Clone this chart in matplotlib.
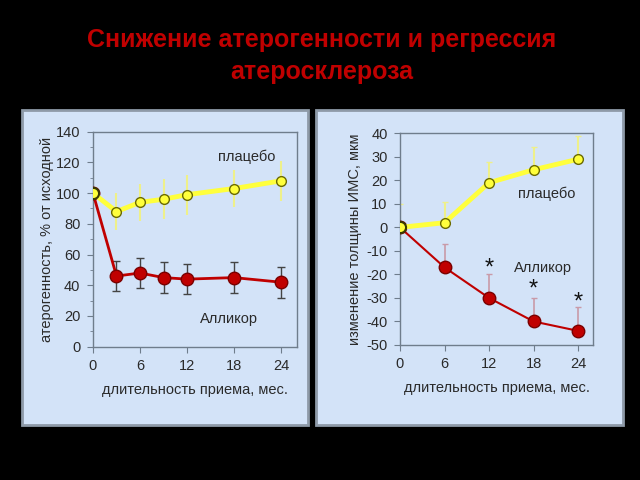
import matplotlib
matplotlib.use('Agg')
import matplotlib.pyplot as plt
from matplotlib.patches import Rectangle
from matplotlib.ticker import MultipleLocator

# данные: атерогенность (левый график)
x_l = [0, 3, 6, 9, 12, 18, 24]
plac_l = [100, 88, 94, 96, 99, 103, 108]
plac_l_err = [12, 12, 12, 13, 13, 12, 13]
alik_l = [100, 46, 48, 45, 44, 45, 42]
alik_l_err = [0, 10, 10, 10, 10, 10, 10]

# данные: толщина ИМС (правый график)
x_r = [0, 6, 12, 18, 24]
plac_r = [0, 2, 19, 24.5, 29]
plac_r_err = [10, 9, 9, 9.5, 10]
alik_r = [0, -17, -30, -40, -44]
alik_r_err = [0, 10, 10, 10, 10]
star_x = [12, 18, 24]
star_y = [-17.5, -26.5, -32]

title1 = 'Снижение атерогенности и регрессия'
title2 = 'атеросклероза'
xlab = 'длительность приема, мес.'

plt.rcParams['font.family'] = ['Liberation Sans', 'DejaVu Sans']
plt.rcParams['axes.unicode_minus'] = False
fig = plt.figure(figsize=(6.4, 4.8), dpi=100, facecolor='black')

BG = '#d3e3f8'; YEL = '#ffff3c'; RED = '#c00000'; TXT = '#2a2a2a'
for px, w in ((0.0344, 0.4469), (0.4938, 0.4797)):
    fig.patches.append(Rectangle((px, 0.1146), w, 0.656, transform=fig.transFigure,
                                 facecolor=BG, edgecolor='#8e9aa8', lw=2, zorder=-5))

for ty, t in ((1 - 40 / 480, title1), (1 - 72 / 480, title2)):
    fig.text(0.503, ty, t, ha='center', va='center', color='#c00000',
             fontsize=18, fontweight='bold')

def style(ax, ylim, ystep):
    ax.set_facecolor('none')
    ax.set_xlim(0, 26); ax.set_ylim(*ylim)
    ax.set_xticks([0, 6, 12, 18, 24])
    ax.yaxis.set_major_locator(MultipleLocator(ystep))
    for s in ax.spines.values():
        s.set_color('#6f7d8c'); s.set_linewidth(1)
    ax.tick_params(direction='out', length=4, color='#6f7d8c', labelsize=10.5,
                   labelcolor=TXT, pad=5)
    ax.set_xlabel(xlab, fontsize=10.5, color=TXT, labelpad=7)

# левый график
ax1 = fig.add_axes([0.1453, 0.2777, 0.3183, 0.4479])
style(ax1, (0, 140), 20)
ax1.yaxis.set_minor_locator(MultipleLocator(10))
ax1.tick_params(which='minor', direction='out', length=2, color='#6f7d8c')
ax1.errorbar(x_l, plac_l, yerr=plac_l_err, fmt='none', ecolor='#eef08a', elinewidth=1.5, zorder=2)
ax1.errorbar(x_l[1:], alik_l[1:], yerr=alik_l_err[1:], fmt='none', ecolor='#444444',
             elinewidth=1, capsize=3, zorder=2)
ax1.plot(x_l, alik_l, '-o', color=RED, lw=2, ms=9, mec='#7a0000', mew=1, zorder=3)
ax1.plot(x_l, plac_l, '-o', color=YEL, lw=3.5, ms=7, mfc=YEL, mec='#6a6a00', mew=1, zorder=4)
ax1.plot(x_l[:1], plac_l[:1], 'o', ms=8, mfc=YEL, mec='#3a3a00', mew=1.5, zorder=5)
ax1.text(19.6, 123.5, 'плацебо', ha='center', va='center', fontsize=10.5, color=TXT)
ax1.text(17.4, 18, 'Алликор', ha='center', va='center', fontsize=10.5, color=TXT)
ax1.set_ylabel('атерогенность, % от исходной', fontsize=10.5, color=TXT, labelpad=1)

# правый график
ax2 = fig.add_axes([0.625, 0.28125, 0.3016, 0.441])
style(ax2, (-50, 40), 10)
ax2.errorbar(x_r, plac_r, yerr=[[0] * 5, plac_r_err], fmt='none', ecolor='#eef08a',
             elinewidth=1.5, capsize=2, zorder=2)
ax2.errorbar(x_r[1:], alik_r[1:], yerr=[[0] * 4, alik_r_err[1:]], fmt='none',
             ecolor='#c99aa8', elinewidth=1.2, capsize=2, zorder=2)
ax2.plot(x_r, alik_r, '-o', color=RED, lw=1.5, ms=9, mec='#7a0000', mew=1, zorder=3)
ax2.plot(x_r, plac_r, '-o', color=YEL, lw=3.5, ms=7, mfc=YEL, mec='#6a6a00', mew=1, zorder=4)
ax2.plot(x_r[:1], plac_r[:1], 'o', ms=8, mfc=YEL, mec='#3a3a00', mew=1.5, zorder=5)
for sx, sy in zip(star_x, star_y):
    ax2.text(sx, sy, '*', ha='center', va='center', fontsize=17, color='#111111')
ax2.text(19.8, 14.5, 'плацебо', ha='center', va='center', fontsize=10.5, color=TXT)
ax2.text(19.3, -17.4, 'Алликор', ha='center', va='center', fontsize=10.5, color=TXT)
ax2.set_ylabel('изменение толщины ИМС, мкм', fontsize=10.5, color=TXT, labelpad=3)

fig.savefig('out.png', dpi=100, facecolor='black')
